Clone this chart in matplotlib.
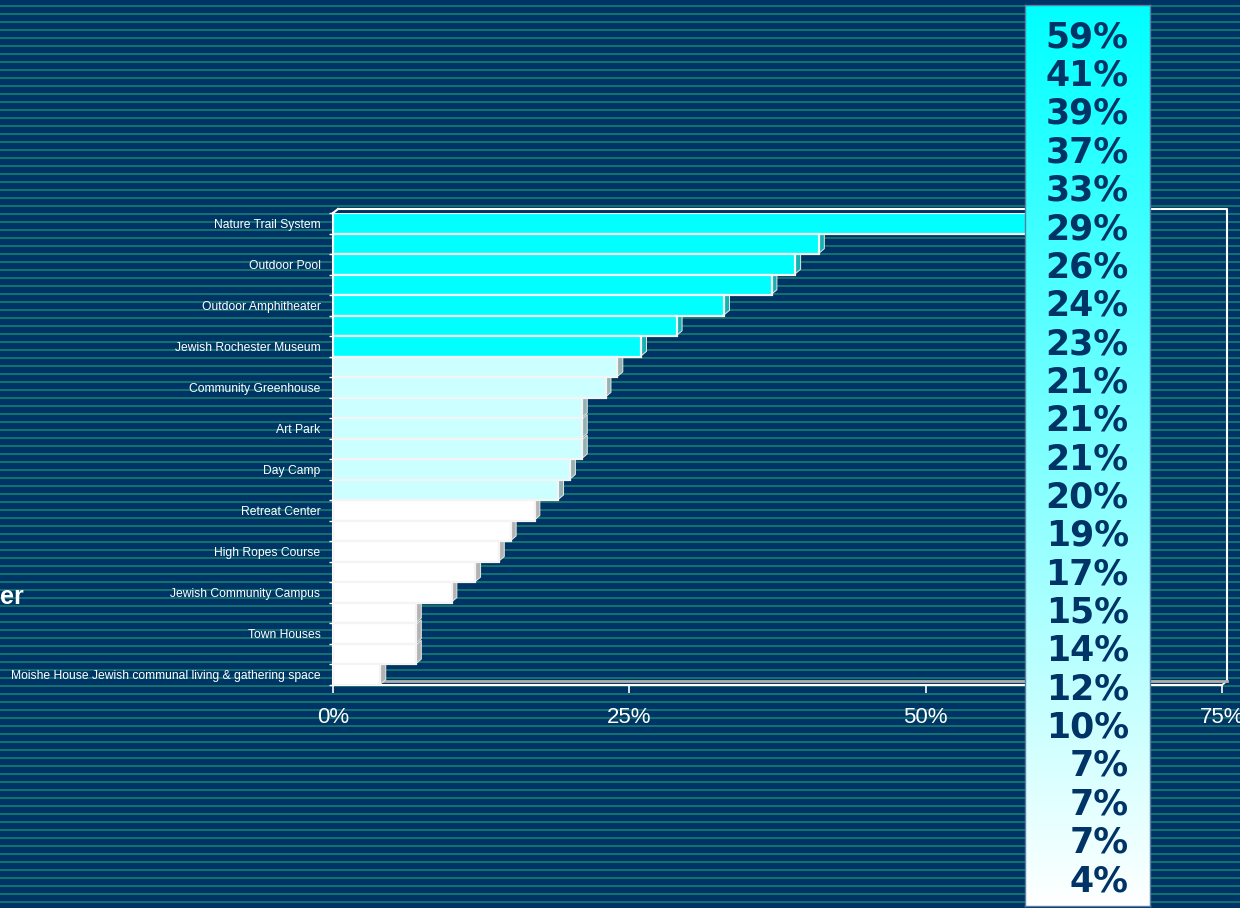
import numpy as np
import matplotlib.pyplot as plt
from matplotlib.patches import Polygon
from matplotlib.colors import to_rgb

# bar chart data (top to bottom)
labels = ["Nature Trail System", "", "Outdoor Pool", "", "Outdoor Amphitheater", "",
          "Jewish Rochester Museum", "", "Community Greenhouse", "", "Art Park", "",
          "Day Camp", "", "Retreat Center", "", "High Ropes Course", "",
          "Jewish Community Campus", "", "Town Houses", "",
          "Moishe House Jewish communal living & gathering space"]
values = [59, 41, 39, 37, 33, 29, 26, 24, 23, 21, 21, 21, 20, 19, 17, 15, 14, 12, 10, 7, 7, 7, 4]
tiers = ["top"] * 7 + ["mid"] * 7 + ["low"] * 9
tier_colors = {"top": "#00FFFF", "mid": "#CCFFFF", "low": "#FFFFFF"}
xticks = [0, 25, 50, 75]

bg = "#003366"
stripe = "#12706d"
navy = "#003366"

W, H = 1240, 908
fig = plt.figure(figsize=(W / 100, H / 100), dpi=100, facecolor=bg)

# striped background
ax_bg = fig.add_axes([0, 0, 1, 1], zorder=0)
ax_bg.set_xlim(0, W)
ax_bg.set_ylim(H, 0)
ax_bg.set_facecolor(bg)
for y in np.arange(5, H, 8):
    ax_bg.axhspan(y, y + 2, color=stripe, lw=0)
ax_bg.axis("off")

fig.text(0.0, 1 - 597 / H, "er", ha="left", va="center", color="white",
         fontsize=18, fontweight="bold", family="Liberation Sans")

# main bar chart
n = len(values)
ypos = np.arange(n)
ax = fig.add_axes([333 / W, 1 - 685 / H, 889 / W, 472 / H], zorder=1)
ax.set_facecolor("none")
h = 1.0
colors = [tier_colors[t] for t in tiers]
ax.barh(ypos, values, height=h, color=colors, edgecolor="#F4F4F4", lw=1.6, zorder=3)
ax.set_xlim(0, 75)
ax.set_ylim(n - 0.5, -0.5)

# 3d side faces of the bars
dx, dy = 0.45, 0.22
for i, v in enumerate(values):
    yb, yt = i + h / 2 - 0.04, i - h / 2 + 0.04
    shade = tuple(0.62 * c + 0.08 for c in to_rgb(colors[i]))
    side = Polygon([(v, yb), (v, yt), (v + dx, yt - dy), (v + dx, yb - dy)],
                   closed=True, facecolor=shade, edgecolor="#E8E8E8",
                   lw=0.7, zorder=2, clip_on=False)
    ax.add_patch(side)

# frame / back wall
pw = ax.get_position().width * W
ph = ax.get_position().height * H
ox, oy = 5 / pw, 4 / ph
ax.plot([ox, 1 + ox, 1 + ox], [1 + oy, 1 + oy, oy], transform=ax.transAxes,
        color="white", lw=1.5, clip_on=False, zorder=1)
ax.plot([0, ox], [1, 1 + oy], transform=ax.transAxes, color="white", lw=1.5,
        clip_on=False, zorder=1)
ax.plot([1, 1 + ox], [0, oy], transform=ax.transAxes, color="white", lw=1.2,
        clip_on=False, zorder=1)
ax.plot([ox, 1 + ox], [oy, oy], transform=ax.transAxes, color="#B0B0B0", lw=2,
        clip_on=False, zorder=1)

for s in ["top", "right"]:
    ax.spines[s].set_visible(False)
for s in ["left", "bottom"]:
    ax.spines[s].set_color("white")
    ax.spines[s].set_linewidth(1.5)

ax.set_xticks(xticks)
ax.set_xticklabels([f"{t}%" for t in xticks], color="white", fontsize=16,
                   family="Liberation Sans")
ax.tick_params(axis="x", colors="white", length=6, width=1.2, pad=10)
ax.set_yticks(ypos)
ax.set_yticklabels(labels, color="white", fontsize=8.7, family="Liberation Sans")
ax.tick_params(axis="y", which="major", length=0, pad=9)
ax.set_yticks(np.arange(-0.5, n, 1), minor=True)
ax.tick_params(axis="y", which="minor", length=3, color="white", width=1)

# value panel on the right
ax_p = fig.add_axes([1025 / W, 2 / H, 125 / W, 901 / H], zorder=3)
grad = np.linspace(0, 1, 256)
img = np.stack([grad, np.ones_like(grad), np.ones_like(grad)], axis=1)[:, None, :]
ax_p.imshow(img, extent=[0, 1, 22.68, -0.81], aspect="auto", interpolation="bilinear")
ax_p.set_xlim(0, 1)
ax_p.set_ylim(22.68, -0.81)
for i, v in enumerate(values):
    ax_p.text(0.83, i + 0.03, f"{v}%", ha="right", va="center", color=navy,
              fontsize=25, fontweight="bold", family="DejaVu Sans")
ax_p.set_xticks([])
ax_p.set_yticks([])
for s in ax_p.spines.values():
    s.set_color("#5a7fa0")
    s.set_linewidth(1)

fig.savefig("out.png", dpi=100, facecolor=bg)
